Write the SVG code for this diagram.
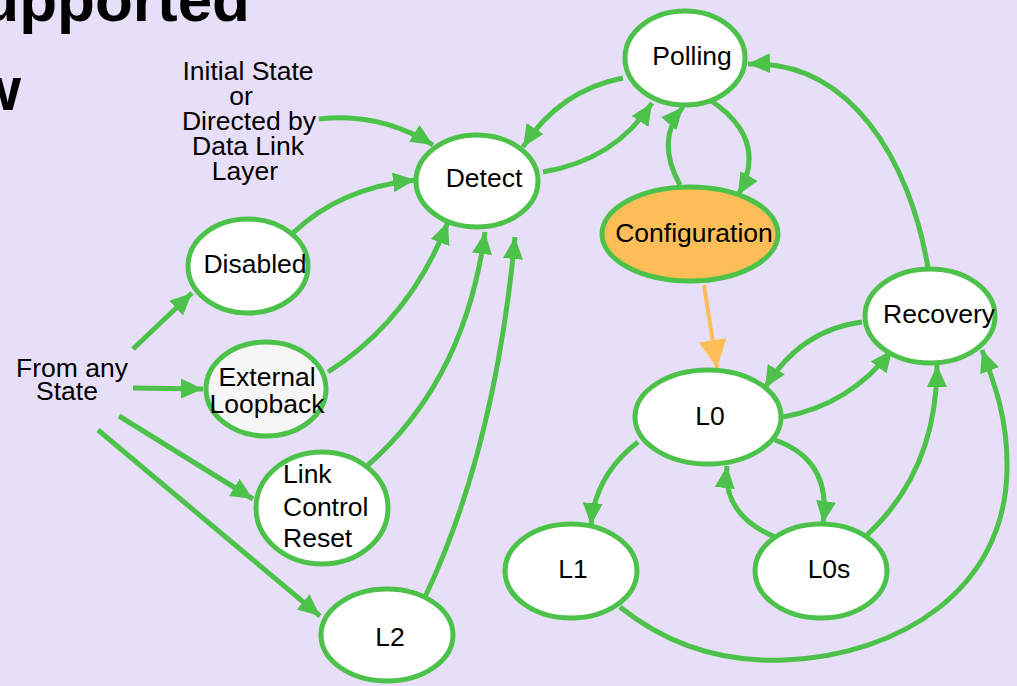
<svg xmlns="http://www.w3.org/2000/svg" width="1017" height="686" viewBox="0 0 1017 686">
<defs>
<style>
.bg{fill:#E7DFF7}
.title{font-family:"Liberation Sans",Arial,sans-serif;font-weight:bold;font-size:62px;fill:#000}
.t{font-family:"Liberation Sans",Arial,sans-serif;font-size:26.5px;fill:#000}
.n{fill:#fff;stroke:#4CC24A;stroke-width:5}
.e{fill:none;stroke:#4CC24A;stroke-width:5}
.o{fill:none;stroke:#FDBE57;stroke-width:4}
</style>
<marker id="ag" markerUnits="userSpaceOnUse" markerWidth="24" markerHeight="22" refX="22" refY="10" orient="auto">
<path d="M0,0 L22,10 L0,20 z" fill="#4CC24A"/>
</marker>
<marker id="ao" markerUnits="userSpaceOnUse" markerWidth="30" markerHeight="30" refX="28" refY="14" orient="auto">
<path d="M0,0 L28,14 L0,28 z" fill="#FDBE57"/>
</marker>
</defs>
<rect class="bg" x="0" y="0" width="1017" height="686"/>
<text class="title" x="250" y="21" text-anchor="end">Supported</text>
<text class="title" x="21" y="110" text-anchor="end">Overview</text>

<g id="labels">
<text class="t" text-anchor="middle"><tspan x="248" y="80">Initial State</tspan><tspan x="241" y="105">or</tspan><tspan x="249" y="130">Directed by</tspan><tspan x="248" y="155">Data Link</tspan><tspan x="245" y="180">Layer</tspan></text>
<text class="t" text-anchor="middle"><tspan x="72" y="377">From any</tspan><tspan x="67" y="400">State</tspan></text>
</g>

<g id="connectors">
<path class="e" d="M319,119 Q380,112 433,145" marker-end="url(#ag)"/>
<path class="e" d="M293,233 Q340,188 415,180" marker-end="url(#ag)"/>
<path class="e" d="M328,372 Q410,320 448,222" marker-end="url(#ag)"/>
<path class="e" d="M368,465 Q465,380 485,232" marker-end="url(#ag)"/>
<path class="e" d="M425,597 Q495,450 515,237" marker-end="url(#ag)"/>
<path class="e" d="M543,172 Q615,160 652,103" marker-end="url(#ag)"/>
<path class="e" d="M623,78 Q560,90 523,147" marker-end="url(#ag)"/>
<path class="e" d="M680,185 Q655,140 683,107" marker-end="url(#ag)"/>
<path class="e" d="M710,100 Q770,140 738,195" marker-end="url(#ag)"/>
<path class="e" d="M928,268 C910,160 850,60 748,64" marker-end="url(#ag)"/>
<path class="o" d="M704,285 L717,368" marker-end="url(#ao)"/>
<path class="e" d="M862,322 Q800,330 765,388" marker-end="url(#ag)"/>
<path class="e" d="M783,417 Q850,405 892,350" marker-end="url(#ag)"/>
<path class="e" d="M867,535 Q937,470 937,365" marker-end="url(#ag)"/>
<path class="e" d="M620,607 C680,655 740,662 785,660 C900,655 1005,590 1007,470 C1008,420 995,385 982,350" marker-end="url(#ag)"/>
<path class="e" d="M638,442 Q595,475 591,525" marker-end="url(#ag)"/>
<path class="e" d="M775,440 Q832,460 823,523" marker-end="url(#ag)"/>
<path class="e" d="M775,537 Q722,515 727,466" marker-end="url(#ag)"/>
<path class="e" d="M133,349 L192,293" marker-end="url(#ag)"/>
<path class="e" d="M133,388 L203,389" marker-end="url(#ag)"/>
<path class="e" d="M119,416 L253,499" marker-end="url(#ag)"/>
<path class="e" d="M98,430 L320,616" marker-end="url(#ag)"/>
</g>

<g id="polling"><ellipse class="n" cx="685" cy="58" rx="60" ry="47"/><text class="t" x="692" y="65" text-anchor="middle">Polling</text></g>
<g id="detect"><ellipse class="n" cx="477" cy="181" rx="61" ry="46"/><text class="t" x="484" y="187" text-anchor="middle">Detect</text></g>
<g id="disabled"><ellipse class="n" cx="248" cy="266" rx="60" ry="47"/><text class="t" x="255" y="273" text-anchor="middle">Disabled</text></g>
<g id="external-loopback"><ellipse class="n" cx="266" cy="389" rx="60" ry="47" style="fill:#F6F6F6"/><text class="t" text-anchor="middle"><tspan x="267" y="386">External</tspan><tspan x="267" y="413">Loopback</tspan></text></g>
<g id="link-control-reset"><ellipse class="n" cx="322" cy="508" rx="66" ry="56"/><text class="t"><tspan x="283" y="483">Link</tspan><tspan x="283" y="516">Control</tspan><tspan x="283" y="547">Reset</tspan></text></g>
<g id="l2"><ellipse class="n" cx="387" cy="635" rx="66" ry="46"/><text class="t" x="390" y="646" text-anchor="middle">L2</text></g>
<g id="configuration"><ellipse class="n" cx="690" cy="234" rx="88" ry="47" style="fill:#FDBE57"/><text class="t" x="694" y="242" text-anchor="middle">Configuration</text></g>
<g id="recovery"><ellipse class="n" cx="930" cy="316" rx="65" ry="47"/><text class="t" x="939" y="323" text-anchor="middle">Recovery</text></g>
<g id="l0"><ellipse class="n" cx="708" cy="417" rx="73" ry="47"/><text class="t" x="710" y="425" text-anchor="middle">L0</text></g>
<g id="l0s"><ellipse class="n" cx="821" cy="571" rx="66" ry="47"/><text class="t" x="829" y="578" text-anchor="middle">L0s</text></g>
<g id="l1"><ellipse class="n" cx="571" cy="571" rx="66" ry="47"/><text class="t" x="573" y="578" text-anchor="middle">L1</text></g>
</svg>
